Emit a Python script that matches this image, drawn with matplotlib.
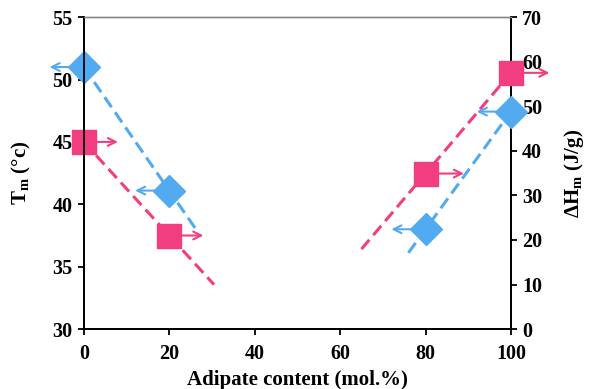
import numpy as np
import matplotlib
matplotlib.use("Agg")
import matplotlib.pyplot as plt

plt.rcParams['font.family'] = ['Liberation Serif', 'DejaVu Serif']
plt.rcParams['font.weight'] = 'bold'
plt.rcParams['mathtext.fontset'] = 'custom'
plt.rcParams['mathtext.rm'] = 'Liberation Serif:bold'
plt.rcParams['mathtext.it'] = 'Liberation Serif:bold'
plt.rcParams['mathtext.bf'] = 'Liberation Serif:bold'

# Data
x_tm = [0, 20]
tm_blue = [51.0, 41.1]
tm_pink = [45.0, 37.5]
x_hm = [80, 100]
hm_blue = [22.4, 48.8]
hm_pink = [34.9, 57.5]

xticks = [0, 20, 40, 60, 80, 100]
yticks_left = [30, 35, 40, 45, 50, 55]
yticks_right = [0, 10, 20, 30, 40, 50, 60, 70]

BLUE = '#52AAF0'
PINK = '#F23E80'

fig = plt.figure(figsize=(5.9, 3.89), dpi=100)
ax = fig.add_axes([0.142, 0.154, 0.724, 0.802])
ax2 = ax.twinx()

ax.set_xlim(0, 100)
ax.set_ylim(30, 55)
ax2.set_ylim(0, 70)

def trend(axis, xs, ys, xr, color):
    p = np.polyfit(xs, ys, 1)
    xx = np.array(xr)
    axis.plot(xx, np.polyval(p, xx), ls=(0, (4, 2)), color=color, lw=2.2, zorder=2, clip_on=False)

trend(ax, x_tm, tm_blue, [0, 26.5], BLUE)
trend(ax, x_tm, tm_pink, [0, 30.5], PINK)
trend(ax2, x_hm, hm_pink, [65, 100], PINK)
trend(ax2, x_hm, hm_blue, [76, 100], BLUE)

def arrows(axis, xs, ys, color, d):
    for xv, yv in zip(xs, ys):
        axis.annotate('', xy=(xv + d, yv), xytext=(xv, yv),
                      arrowprops=dict(arrowstyle='->', color=color, lw=1.5,
                                      mutation_scale=14, shrinkA=0, shrinkB=0),
                      zorder=2, annotation_clip=False)

arrows(ax, x_tm, tm_blue, BLUE, -8)
arrows(ax, x_tm, tm_pink, PINK, 8)
arrows(ax2, x_hm, hm_pink, PINK, 9)
arrows(ax2, x_hm, hm_blue, BLUE, -8)

ax.plot(x_tm, tm_blue, ls='none', marker='D', ms=16.5, color=BLUE, zorder=5, clip_on=False)
ax.plot(x_tm, tm_pink, ls='none', marker='s', ms=17, color=PINK, zorder=5, clip_on=False)
ax2.plot(x_hm, hm_blue, ls='none', marker='D', ms=16.5, color=BLUE, zorder=5, clip_on=False)
ax2.plot(x_hm, hm_pink, ls='none', marker='s', ms=17, color=PINK, zorder=5, clip_on=False)

ax.set_xticks(xticks)
ax.set_yticks(yticks_left)
ax2.set_yticks(yticks_right)

for a in (ax, ax2):
    a.tick_params(labelsize=14.5, width=1.3, length=4, direction='out', pad=4)
    for s in a.spines.values():
        s.set_linewidth(1.3)
    a.spines['top'].set_color('#888888')
    a.spines['top'].set_linewidth(1.0)
ax.tick_params(axis='x', pad=7)

ax.set_xlabel('Adipate content (mol.%)', fontsize=15, fontweight='bold', labelpad=4)
ax.set_ylabel(r'T$_\mathregular{m}$ (°c)', fontsize=15, fontweight='bold', labelpad=14)
ax2.set_ylabel(r'ΔH$_\mathregular{m}$ (J/g)', fontsize=15, fontweight='bold', labelpad=14)

fig.savefig('out.png', dpi=100)
